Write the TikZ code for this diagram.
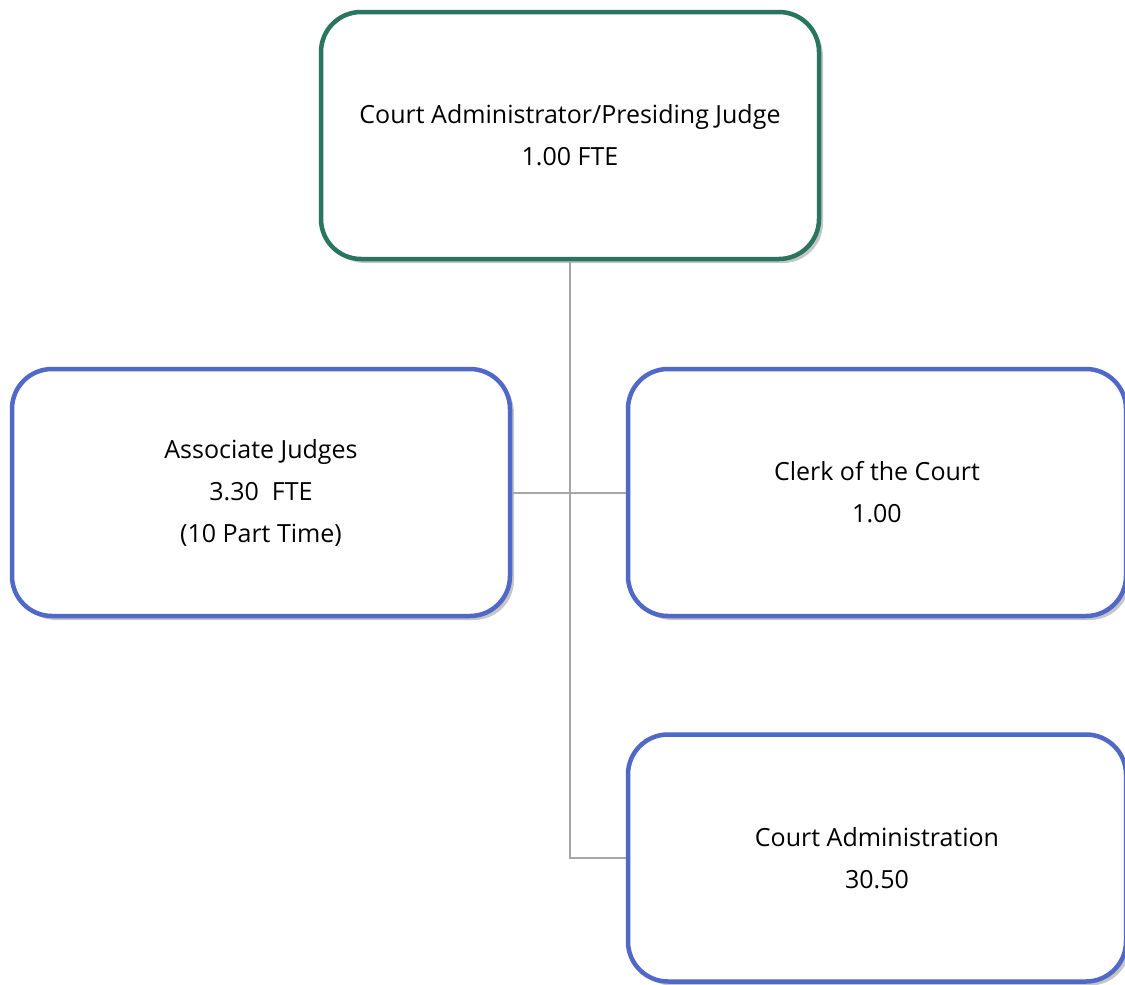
\documentclass[tikz,border=0pt]{standalone}
\usepackage{fontspec}
\setmainfont{Open Sans}
\usetikzlibrary{shadows}
\definecolor{topgreen}{HTML}{2A7560}
\definecolor{boxblue}{HTML}{5068C8}
\definecolor{linkgray}{HTML}{A6A6A6}
\tikzset{
  orgbox/.style={draw, line width=4.5pt, rounded corners=40pt, fill=white,
    minimum width=498pt, minimum height=247pt, align=center,
    font=\fontsize{25pt}{42pt}\selectfont,
    drop shadow={opacity=0.45, shadow xshift=4pt, shadow yshift=-4pt}},
  topbox/.style={orgbox, draw=topgreen},
  subbox/.style={orgbox, draw=boxblue},
  link/.style={draw=linkgray, line width=2pt}
}
\begin{document}
\begin{tikzpicture}[x=1pt,y=-1pt]
\useasboundingbox (0,0) rectangle (1125,985);
\node[topbox] (top) at (570,135.5) {Court Administrator/Presiding Judge\\1.00 FTE};
\node[subbox] (assoc) at (261,492.5) {Associate Judges\\3.30\ \ FTE\\(10 Part Time)};
\node[subbox] (clerk) at (877,492.5) {Clerk of the Court\\1.00};
\node[subbox] (admin) at (877,858) {Court Administration\\30.50};
\coordinate (elbow) at (top.south |- admin.west);
\draw[link] (top.south) -- (elbow) -- (admin.west);
\draw[link] (assoc.east) -- (clerk.west);
\end{tikzpicture}
\end{document}
